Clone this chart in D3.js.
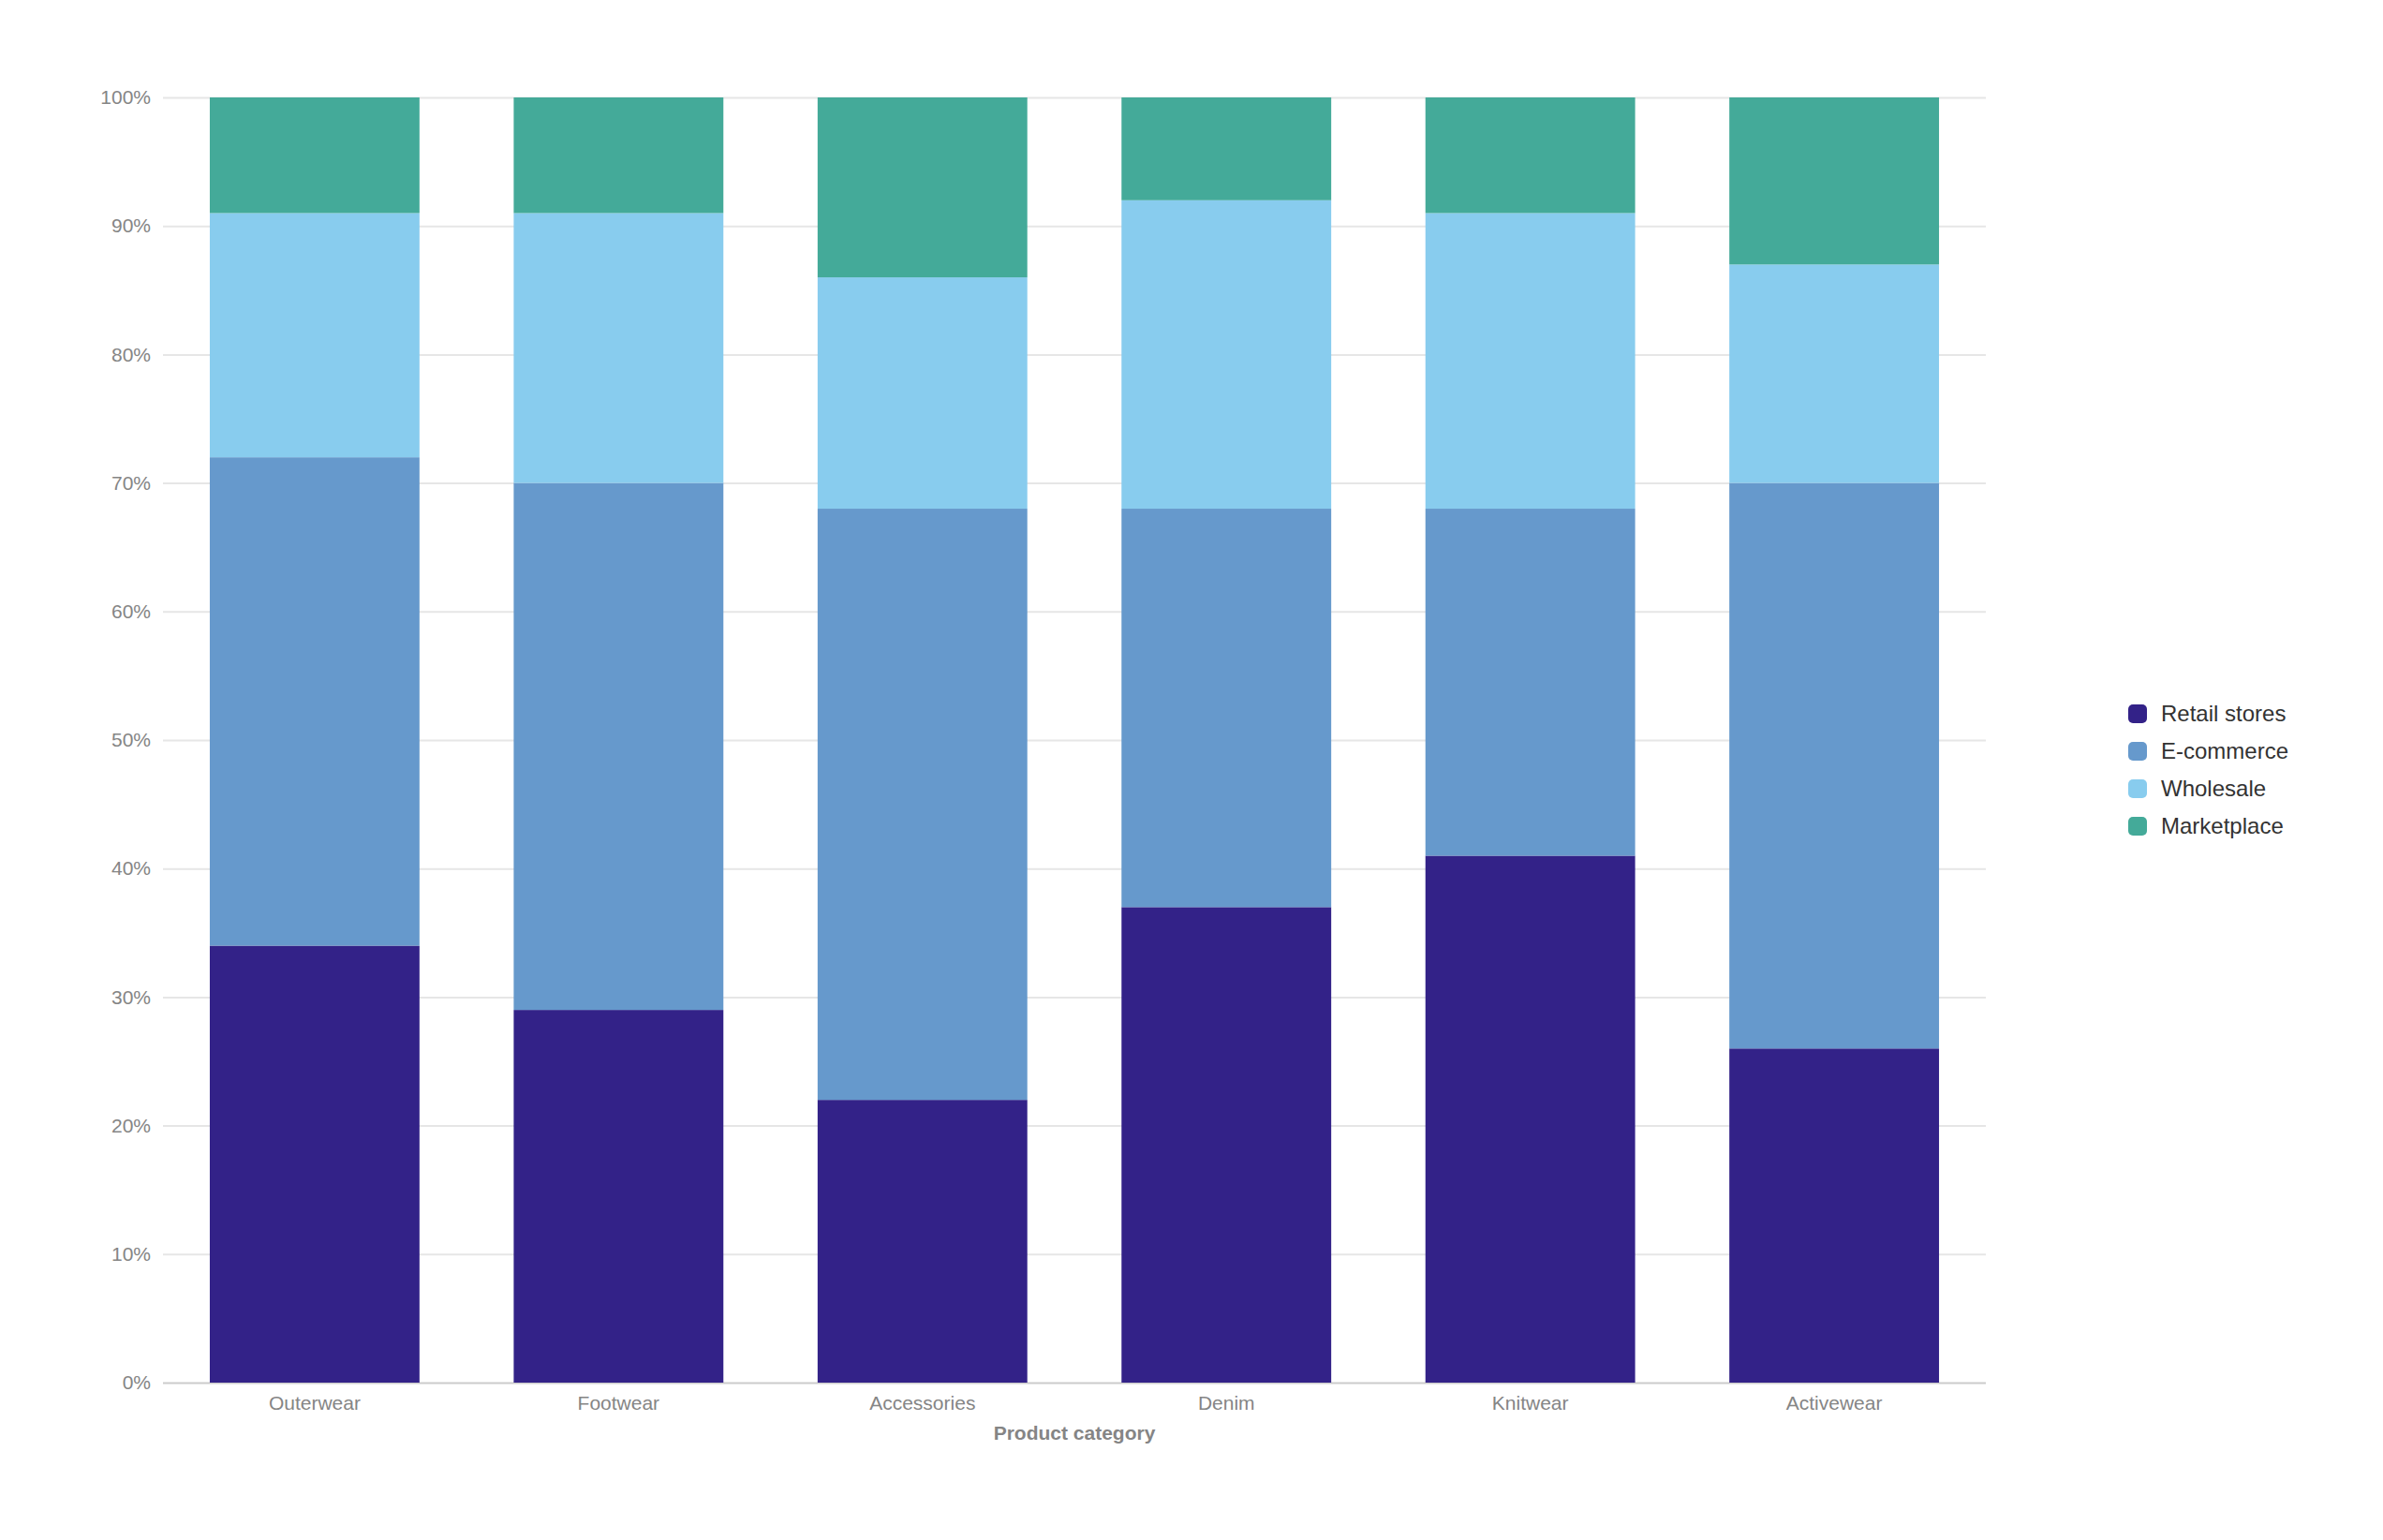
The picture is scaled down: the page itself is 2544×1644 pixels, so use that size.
<!DOCTYPE html>
<html>
<head>
<meta charset="utf-8">
<script src="https://cdn.jsdelivr.net/npm/d3@7"></script>
<style>
    html, body { margin: 0; padding: 0; background: #fff; overflow: hidden; }
    svg { display: block; font-family: Arial, "Liberation Sans", sans-serif; }
</style>
</head>
<body>
<svg id="chart"></svg>
<script>
// data
const categories = ['Outerwear', 'Footwear', 'Accessories', 'Denim', 'Knitwear', 'Activewear']
const channels = ['Retail stores', 'E-commerce', 'Wholesale', 'Marketplace']
const retailStores = [34, 29, 22, 37, 41, 26]
const eCommerce = [38, 41, 46, 31, 27, 44]
const wholesale = [19, 21, 18, 24, 23, 17]
const marketplace = [9, 9, 14, 8, 9, 13]
const yTicks = [0, 10, 20, 30, 40, 50, 60, 70, 80, 90, 100]
const colors = ['#332288', '#6699cc', '#88ccee', '#44aa99']

const seriesValues = [retailStores, eCommerce, wholesale, marketplace]
const rows = categories.map((c, i) => {
    const row = { category: c }
    channels.forEach((ch, j) => { row[ch] = seriesValues[j][i] })
    return row
})

// dimensions
const width = 2544
const height = 1644
const margin = { top: 104, right: 424, bottom: 168, left: 174 }
const innerWidth = width - margin.left - margin.right
const innerHeight = height - margin.top - margin.bottom

const svg = d3.select('#chart')
    .attr('width', width)
    .attr('height', height)

const g = svg.append('g')
    .attr('transform', `translate(${margin.left}, ${margin.top})`)

// scales
const x = d3.scaleBand()
    .domain(categories)
    .range([0, innerWidth])
    .paddingInner(0.31)
    .paddingOuter(0.154)

const y = d3.scaleLinear()
    .domain([0, 100])
    .range([innerHeight, 0])

const color = d3.scaleOrdinal()
    .domain(channels)
    .range(colors)

// grid + y labels
const yAxis = g.append('g')
    .call(d3.axisLeft(y)
        .tickValues(yTicks)
        .tickSize(-innerWidth)
        .tickPadding(13)
        .tickFormat((d) => d + '%'))

yAxis.select('.domain').remove()
yAxis.selectAll('.tick line')
    .attr('stroke', (d) => d === 0 ? '#cccccc' : '#e6e6e6')
    .attr('stroke-width', 2)
yAxis.selectAll('.tick text')
    .attr('fill', '#858585')
    .style('font-size', '21px')
    .style('font-family', 'Arial, "Liberation Sans", sans-serif')

// bars
const stacked = d3.stack().keys(channels)(rows)

g.append('g')
    .selectAll('g')
    .data(stacked)
    .join('g')
    .attr('fill', (d) => color(d.key))
    .selectAll('rect')
    .data((d) => d)
    .join('rect')
    .attr('x', (d) => x(d.data.category))
    .attr('y', (d) => y(d[1]))
    .attr('width', x.bandwidth())
    .attr('height', (d) => y(d[0]) - y(d[1]))

// x labels
const xAxis = g.append('g')
    .attr('transform', `translate(0, ${innerHeight})`)
    .call(d3.axisBottom(x).tickSize(0).tickPadding(14))

xAxis.select('.domain').remove()
xAxis.selectAll('.tick text')
    .attr('fill', '#858585')
    .style('font-size', '21px')
    .style('font-family', 'Arial, "Liberation Sans", sans-serif')

g.append('text')
    .attr('x', innerWidth / 2)
    .attr('y', innerHeight + 61)
    .attr('text-anchor', 'middle')
    .attr('fill', '#858585')
    .style('font-size', '21px')
    .style('font-weight', 'bold')
    .text('Product category')

// legend
const legend = svg.append('g')
    .attr('transform', 'translate(2272, 762)')

const item = legend.selectAll('g')
    .data(channels)
    .join('g')
    .attr('transform', (d, i) => `translate(0, ${i * 40})`)

item.append('rect')
    .attr('x', 0)
    .attr('y', -10)
    .attr('width', 20)
    .attr('height', 20)
    .attr('rx', 5)
    .attr('fill', (d) => color(d))

item.append('text')
    .attr('x', 35)
    .attr('y', 0)
    .attr('dy', '0.35em')
    .attr('fill', '#333333')
    .style('font-size', '24px')
    .text((d) => d)
</script>
</body>
</html>
